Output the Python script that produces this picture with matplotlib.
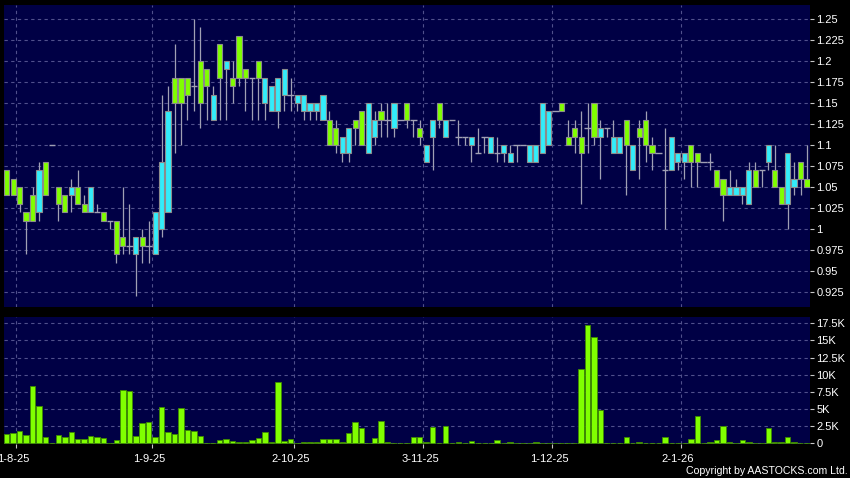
import matplotlib
matplotlib.use("Agg")
import matplotlib.pyplot as plt
import matplotlib.transforms as mtransforms
import numpy as np

plt.rcParams['font.family'] = ['Liberation Sans', 'DejaVu Sans']

# ---------------- data ----------------
opens = [1.07, 1.06, 1.05, 1.02, 1.04, 1.02, 1.08, 1.10, 1.05, 1.04,
         1.04, 1.05, 1.03, 1.02, 1.02, 1.02, 1.01, 1.01, 0.99, 0.98,
         0.97, 0.99, 0.98, 0.97, 1.00, 1.02, 1.18, 1.18, 1.18, 1.17,
         1.20, 1.19, 1.13, 1.22, 1.19, 1.18, 1.23, 1.19, 1.18, 1.20,
         1.15, 1.14, 1.14, 1.16, 1.16, 1.15, 1.14, 1.14, 1.14, 1.13,
         1.13, 1.12, 1.09, 1.09, 1.13, 1.14, 1.09, 1.11, 1.14, 1.13,
         1.12, 1.13, 1.15, 1.13, 1.12, 1.08, 1.11, 1.15, 1.11, 1.13,
         1.11, 1.11, 1.10, 1.09, 1.11, 1.09, 1.09, 1.09, 1.08, 1.10,
         1.10, 1.08, 1.08, 1.09, 1.10, 1.14, 1.15, 1.11, 1.12, 1.11,
         1.12, 1.15, 1.11, 1.12, 1.09, 1.09, 1.13, 1.07, 1.12, 1.13,
         1.10, 1.09, 1.07, 1.07, 1.08, 1.08, 1.10, 1.09, 1.08, 1.08,
         1.07, 1.06, 1.04, 1.04, 1.04, 1.03, 1.07, 1.07, 1.08, 1.07,
         1.05, 1.03, 1.05, 1.08, 1.06]
highs = [1.07, 1.06, 1.05, 1.02, 1.05, 1.08, 1.08, 1.10, 1.05, 1.04,
         1.06, 1.07, 1.04, 1.05, 1.03, 1.02, 1.01, 1.01, 1.05, 1.03,
         0.99, 1.00, 1.01, 1.02, 1.16, 1.17, 1.22, 1.18, 1.18, 1.25,
         1.24, 1.19, 1.17, 1.22, 1.20, 1.20, 1.23, 1.19, 1.18, 1.20,
         1.18, 1.17, 1.18, 1.19, 1.18, 1.16, 1.16, 1.15, 1.15, 1.16,
         1.14, 1.13, 1.11, 1.12, 1.13, 1.14, 1.15, 1.14, 1.15, 1.15,
         1.15, 1.13, 1.15, 1.13, 1.13, 1.10, 1.13, 1.15, 1.13, 1.13,
         1.13, 1.11, 1.11, 1.12, 1.11, 1.11, 1.11, 1.10, 1.10, 1.10,
         1.10, 1.10, 1.10, 1.15, 1.14, 1.14, 1.15, 1.13, 1.13, 1.14,
         1.15, 1.15, 1.13, 1.12, 1.13, 1.11, 1.13, 1.10, 1.13, 1.14,
         1.11, 1.09, 1.12, 1.11, 1.09, 1.09, 1.10, 1.09, 1.08, 1.09,
         1.07, 1.06, 1.07, 1.06, 1.05, 1.08, 1.08, 1.07, 1.10, 1.10,
         1.05, 1.09, 1.08, 1.08, 1.10]
lows = [1.04, 1.04, 1.02, 0.97, 1.01, 1.01, 1.04, 1.10, 1.01, 1.02,
        1.02, 1.03, 1.02, 1.02, 1.02, 1.01, 1.00, 0.96, 0.97, 0.97,
        0.92, 0.96, 0.96, 0.97, 0.99, 1.02, 1.09, 1.10, 1.13, 1.14,
        1.12, 1.13, 1.13, 1.13, 1.13, 1.15, 1.17, 1.14, 1.13, 1.13,
        1.13, 1.14, 1.12, 1.14, 1.14, 1.14, 1.13, 1.13, 1.13, 1.13,
        1.10, 1.09, 1.08, 1.08, 1.10, 1.10, 1.09, 1.10, 1.11, 1.11,
        1.11, 1.13, 1.12, 1.11, 1.10, 1.08, 1.07, 1.12, 1.11, 1.13,
        1.10, 1.10, 1.08, 1.09, 1.09, 1.09, 1.08, 1.08, 1.08, 1.08,
        1.10, 1.08, 1.08, 1.09, 1.10, 1.14, 1.14, 1.10, 1.09, 1.03,
        1.09, 1.10, 1.06, 1.11, 1.09, 1.09, 1.04, 1.07, 1.06, 1.08,
        1.07, 1.09, 1.00, 1.07, 1.07, 1.06, 1.05, 1.05, 1.08, 1.07,
        1.05, 1.01, 1.04, 1.04, 1.03, 1.03, 1.05, 1.05, 1.07, 1.05,
        1.03, 1.00, 1.04, 1.04, 1.05]
closes = [1.04, 1.04, 1.03, 1.01, 1.01, 1.07, 1.04, 1.10, 1.03, 1.02,
          1.05, 1.03, 1.02, 1.05, 1.02, 1.01, 1.01, 0.97, 0.98, 0.98,
          0.99, 0.98, 0.98, 1.02, 1.08, 1.14, 1.15, 1.15, 1.16, 1.17,
          1.15, 1.17, 1.16, 1.18, 1.20, 1.17, 1.18, 1.18, 1.18, 1.18,
          1.18, 1.17, 1.18, 1.19, 1.16, 1.16, 1.16, 1.15, 1.15, 1.16,
          1.10, 1.10, 1.11, 1.12, 1.12, 1.10, 1.15, 1.13, 1.13, 1.13,
          1.15, 1.13, 1.13, 1.13, 1.11, 1.10, 1.13, 1.13, 1.13, 1.13,
          1.11, 1.11, 1.11, 1.09, 1.11, 1.11, 1.09, 1.10, 1.09, 1.10,
          1.10, 1.10, 1.10, 1.15, 1.14, 1.14, 1.14, 1.10, 1.11, 1.09,
          1.12, 1.11, 1.12, 1.12, 1.11, 1.11, 1.10, 1.10, 1.11, 1.10,
          1.09, 1.09, 1.07, 1.11, 1.09, 1.09, 1.08, 1.08, 1.08, 1.08,
          1.05, 1.04, 1.05, 1.05, 1.05, 1.07, 1.05, 1.07, 1.10, 1.05,
          1.03, 1.09, 1.06, 1.06, 1.05]
volumes = [1360, 1500, 1750, 1215, 8360, 5440, 920, 0, 1260, 970,
           1650, 630, 580, 1120, 970, 830, 0, 490, 7780, 7680,
           1070, 2960, 3160, 870, 5250, 1700, 1410, 5150, 1940, 1800,
           1070, 50, 0, 490, 680, 290, 190, 150, 490, 730,
           1650, 190, 8890, 340, 580, 0, 190, 190, 190, 630,
           630, 680, 190, 1500, 3060, 2240, 0, 780, 3300, 240,
           50, 0, 0, 870, 970, 150, 2330, 0, 2530, 0,
           190, 0, 390, 20, 20, 100, 490, 100, 190, 20,
           20, 20, 190, 20, 20, 20, 20, 100, 20, 10790,
           17250, 15450, 4860, 100, 0, 0, 920, 0, 190, 0,
           100, 0, 920, 0, 0, 0, 580, 3990, 0, 190,
           440, 2530, 190, 0, 440, 190, 0, 0, 2240, 240,
           150, 870, 190, 100, 20]
date_tick_pos = [1.5, 22.5, 44.5, 64.5, 84.5, 104.5]
date_tick_labels = ['1-8-25', '1-9-25', '2-10-25', '3-11-25', '1-12-25', '2-1-26']
price_ticks = [0.925, 0.95, 0.975, 1.0, 1.025, 1.05, 1.075, 1.1, 1.125, 1.15, 1.175, 1.2, 1.225, 1.25]
price_tick_labels = ['0.925', '0.95', '0.975', '1', '1.025', '1.05', '1.075', '1.1', '1.125',
                     '1.15', '1.175', '1.2', '1.225', '1.25']
vol_ticks = [0, 2500, 5000, 7500, 10000, 12500, 15000, 17500]
vol_tick_labels = ['0', '2.5K', '5K', '7.5K', '10K', '12.5K', '15K', '17.5K']

# ---------------- style ----------------
BG = '#000000'
PANEL = '#000045'
GRID = '#50508C'
UP = '#33ECFA'
DOWN = '#80FF00'
EDGE = '#8C8C8C'
WICK = '#A0A0B4'
TXT = '#FFFFFF'

W, H = 850, 478
fig = plt.figure(figsize=(W / 100, H / 100), dpi=100, facecolor=BG)

def box(l, t, r, b):
    return [l / W, 1 - b / H, (r - l) / W, (b - t) / H]

axp = fig.add_axes(box(4, 5, 810, 306.5))
axv = fig.add_axes(box(4, 317, 810, 444))

o = np.array(opens); h = np.array(highs); l = np.array(lows); c = np.array(closes)
x = np.arange(len(o))
bw = 0.8

for ax in (axp, axv):
    ax.set_facecolor(PANEL)
    for s in ax.spines.values():
        s.set_visible(False)
    ax.set_xlim(-0.42, 124.47)
    ax.yaxis.tick_right()
    ax.tick_params(axis='y', colors='#C8C8C8', labelcolor=TXT, length=3, width=0.8,
                   labelsize=8, pad=1.5, direction='out')
    ax.set_xticks(date_tick_pos)
    ax.grid(True, color=GRID, linestyle=(0, (3, 3)), linewidth=0.8)
    ax.set_axisbelow(True)

# price panel
axp.set_ylim(0.90774, 1.26667)
axp.set_yticks(price_ticks)
axp.set_yticklabels(price_tick_labels)
axp.tick_params(axis='x', length=0, labelbottom=False)

# wicks
axp.vlines(x, l, h, color=WICK, linewidth=0.9, zorder=2)
up = c > o
dn = c < o
dj = c == o
axp.bar(x[up], (c - o)[up], bottom=o[up], width=bw, color=UP, edgecolor=EDGE,
        linewidth=0.8, zorder=3)
axp.bar(x[dn], (o - c)[dn], bottom=c[dn], width=bw, color=DOWN, edgecolor=EDGE,
        linewidth=0.8, zorder=3)
axp.hlines(o[dj], x[dj] - 0.5, x[dj] + 0.5, color=WICK, linewidth=1.0, zorder=3)

# volume panel
axv.set_ylim(-100, 18420)
axv.set_yticks(vol_ticks)
axv.set_yticklabels(vol_tick_labels)
axv.bar(x, volumes, width=0.85, color=DOWN, edgecolor='#3E8A00', linewidth=0.6, zorder=3)
axv.set_xticklabels(date_tick_labels)
axv.tick_params(axis='x', colors='#C8C8C8', labelcolor=TXT, length=3, width=0.8,
                labelsize=8, pad=4)
offset = mtransforms.ScaledTranslation(-3 / 100, 0, fig.dpi_scale_trans)
for lab in axv.get_xticklabels():
    lab.set_transform(lab.get_transform() + offset)

fig.text(848 / W, 1 - 471 / H, 'Copyright by AASTOCKS.com Ltd.', color=TXT,
         fontsize=7.6, ha='right', va='center')

fig.savefig('out.png', dpi=100, facecolor=BG)
